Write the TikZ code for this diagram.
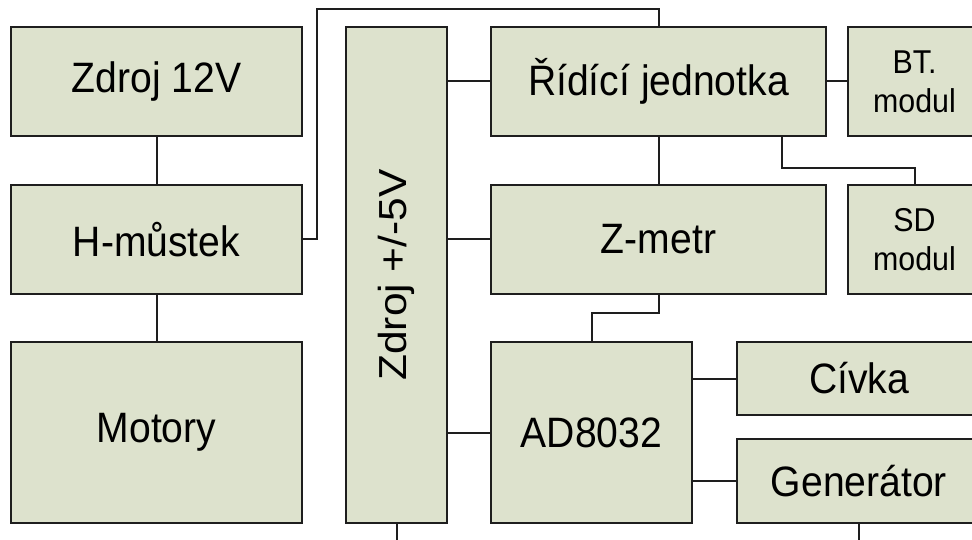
\documentclass[tikz,border=0pt]{standalone}
\usepackage{fontspec}
\setmainfont{Liberation Sans}
\definecolor{boxfill}{RGB}{221,226,205}
\definecolor{ln}{RGB}{30,30,30}
\newcommand\sqz[1]{\scalebox{0.92}[1]{#1}}
\begin{document}
\begin{tikzpicture}[x=1pt,y=-1pt,
  blk/.style={draw=ln, fill=boxfill, line width=2pt, inner sep=0pt,
              font=\fontsize{42.5}{50}\selectfont},
  sml/.style={font=\fontsize{33}{39}\selectfont, align=center},
  wire/.style={draw=ln, line width=2pt}]
\useasboundingbox (0,0) rectangle (972,540);
\clip (0,0) rectangle (972,540);

% left column
\node[blk, minimum width=291pt, minimum height=109pt] (z12) at (156.5,81.5) {\sqz{Zdroj 12V}};
\node[blk, minimum width=291pt, minimum height=109pt] (hm)  at (156.5,239.5) {\sqz{H-můstek}};
\node[blk, minimum width=291pt, minimum height=181pt] (mot) at (156.5,432.5) {\sqz{Motory}};

% power supply
\node[blk, minimum width=101pt, minimum height=496pt] (z5) at (396.5,275)
  {\rotatebox{90}{\scalebox{1}[0.92]{Zdroj +/-5V}}};

% right part
\node[blk, minimum width=335pt, minimum height=109pt] (ridici) at (658.5,81.5) {\sqz{Řídící jednotka}};
\node[blk, sml, minimum width=133pt, minimum height=109pt] (bt) at (914.5,81.5) {\sqz{BT.}\\\sqz{modul}};
\node[blk, minimum width=335pt, minimum height=109pt] (zm) at (658.5,239.5) {\sqz{Z-metr}};
\node[blk, sml, minimum width=133pt, minimum height=109pt] (sd) at (914.5,239.5) {\sqz{SD}\\\sqz{modul}};
\node[blk, minimum width=201pt, minimum height=181pt] (ad) at (591.5,432.5) {\sqz{AD8032}};
\node[blk, minimum width=244pt, minimum height=73pt] (civ) at (859,378.5) {\sqz{Cívka}};
\node[blk, minimum width=244pt, minimum height=84pt] (gen) at (859,481) {\sqz{Generátor}};

% connectors
\coordinate (tp) at (317,9);
\draw[wire] (z12.south) -- (hm.north);
\draw[wire] (hm.south) -- (mot.north);
\draw[wire] (hm.east) -| (tp) -| (ridici.north);
\draw[wire] (z5.east |- ridici.west) -- (ridici.west);
\draw[wire] (z5.east |- zm.west) -- (zm.west);
\draw[wire] (z5.east |- ad.west) -- (ad.west);
\draw[wire] (ridici.east) -- (bt.west);
\draw[wire] (ridici.south) -- (zm.north);
\draw[wire] ([xshift=123.5pt]ridici.south) -- ++(0,31) -| (sd.north);
\draw[wire] (zm.south) -- ++(0,18) -| (ad.north);
\draw[wire] (civ.west -| ad.east) -- (civ.west);
\draw[wire] (gen.west -| ad.east) -- (gen.west);
\draw[wire] (z5.south) -- ++(0,20);
\draw[wire] (gen.south) -- ++(0,20);
\end{tikzpicture}
\end{document}
